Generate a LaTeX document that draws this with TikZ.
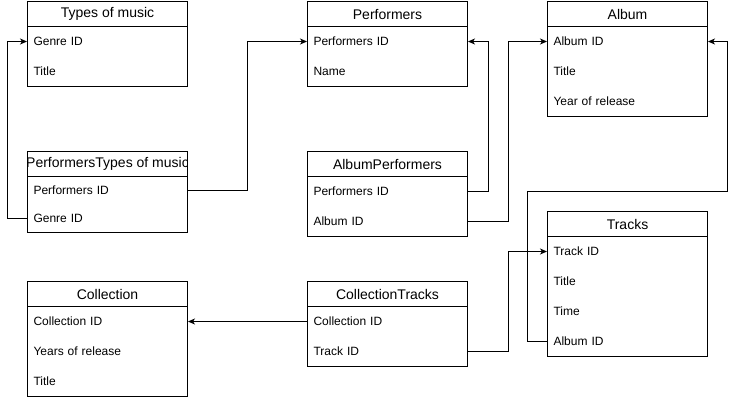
\documentclass[tikz,border=0pt]{standalone}
\usepackage{fontspec}
\setmainfont{Liberation Sans}
\usetikzlibrary{arrows.meta}
\begin{document}
\begin{tikzpicture}[x=1pt,y=-1pt,line width=1pt,
  hdr/.style={draw, minimum width=160pt, minimum height=25pt, inner sep=0pt, anchor=north west, font=\fontsize{14}{16}\selectfont},
  bodybox/.style={draw, minimum width=160pt, inner sep=0pt, anchor=north west},
  rowtxt/.style={minimum height=#1, inner xsep=6pt, inner ysep=0pt, text width=148pt, align=left, anchor=north west, font=\fontsize{12}{14}\selectfont},
  rowtxt/.default=30pt,
  link/.style={draw, line width=1pt, -{Stealth[length=7pt,width=6pt,inset=2pt]}}]
\useasboundingbox (0,0) rectangle (736,400);

% Types of music
\node[hdr] (tm) at (27,1) {Types of music};
\node[bodybox, minimum height=60pt] (tmb) at (27,26) {};
\node[rowtxt] (tm1) at (27,26) {Genre ID};
\node[rowtxt] (tm2) at (27,56) {Title};

% Performers
\node[hdr] (pf) at (307,1) {Performers};
\node[bodybox, minimum height=60pt] (pfb) at (307,26) {};
\node[rowtxt] (pf1) at (307,26) {Performers ID};
\node[rowtxt] (pf2) at (307,56) {Name};

% Album
\node[hdr] (al) at (547,1) {Album};
\node[bodybox, minimum height=90pt] (alb) at (547,26) {};
\node[rowtxt] (al1) at (547,26) {Album ID};
\node[rowtxt] (al2) at (547,56) {Title};
\node[rowtxt] (al3) at (547,86) {Year of release};

% PerformersTypes of music
\node[hdr, minimum height=25.5pt] (ptm) at (27,150.5) {};
\begin{scope}
  \clip (27,150.5) rectangle (187,176);
  \node[font=\fontsize{14}{16}\selectfont, inner sep=0pt] (ptmt) at (ptm.center) {PerformersTypes of music};
\end{scope}
\node[bodybox, minimum height=56pt] (ptmb) at (27,176) {};
\node[rowtxt=28pt] (ptm1) at (27,176) {Performers ID};
\node[rowtxt=28pt] (ptm2) at (27,204) {Genre ID};

% AlbumPerformers
\node[hdr] (ap) at (307,151) {AlbumPerformers};
\node[bodybox, minimum height=60pt] (apb) at (307,176) {};
\node[rowtxt] (ap1) at (307,176) {Performers ID};
\node[rowtxt] (ap2) at (307,206) {Album ID};

% Tracks
\node[hdr] (tr) at (547,211) {Tracks};
\node[bodybox, minimum height=120pt] (trb) at (547,236) {};
\node[rowtxt] (tr1) at (547,236) {Track ID};
\node[rowtxt] (tr2) at (547,266) {Title};
\node[rowtxt] (tr3) at (547,296) {Time};
\node[rowtxt] (tr4) at (547,326) {Album ID};

% Collection
\node[hdr] (co) at (27,281) {Collection};
\node[bodybox, minimum height=90pt] (cob) at (27,306) {};
\node[rowtxt] (co1) at (27,306) {Collection ID};
\node[rowtxt] (co2) at (27,336) {Years of release};
\node[rowtxt] (co3) at (27,366) {Title};

% CollectionTracks
\node[hdr] (ct) at (307,281) {CollectionTracks};
\node[bodybox, minimum height=60pt] (ctb) at (307,306) {};
\node[rowtxt] (ct1) at (307,306) {Collection ID};
\node[rowtxt] (ct2) at (307,336) {Track ID};

% connectors
\path[link] (ptm2.west) -- ++(-20,0) |- (tm1.west);
\path[link] (ptm1.east) -- (247,0 |- ptm1.east) |- (pf1.west);
\path[link] (ap1.east) -- ++(20,0) |- (pf1.east);
\path[link] (ap2.east) -- ++(40,0) |- (al1.west);
\path[link] (tr4.west) -- ++(-20,0) -- (527,191) -- (727,191) |- (al1.east);
\path[link] (ct1.west) -- (co1.east);
\path[link] (ct2.east) -- ++(40,0) |- (tr1.west);
\end{tikzpicture}
\end{document}
